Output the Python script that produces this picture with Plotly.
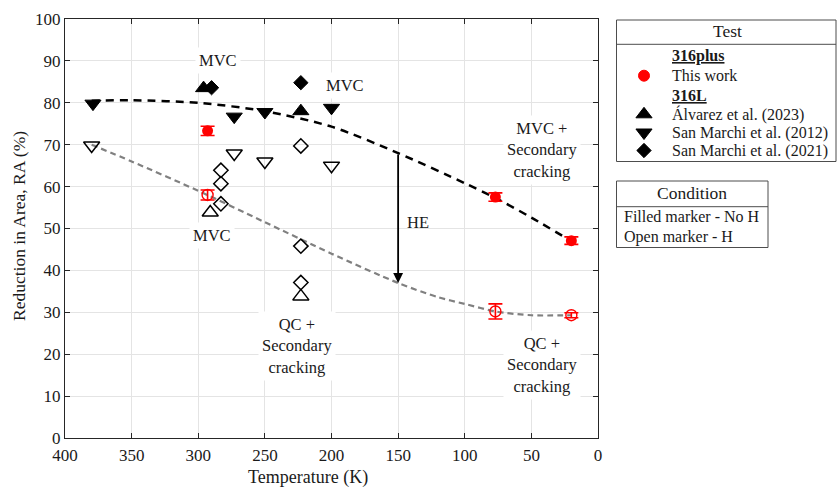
import plotly.graph_objects as go

W, H = 837, 487

# ---------------- data ----------------
# 316plus, this work (temperature in K, RA in %)
plus_T = [293, 77, 20]
plus_ra_noH = [73.3, 57.5, 47.1]
plus_err_noH = [1.1, 1.0, 0.9]
plus_ra_H = [58.0, 30.2, 29.3]
plus_err_H = [1.2, 1.8, 0.6]

# 316L, Alvarez et al. (2023)
alv_T_noH = [296, 223]
alv_ra_noH = [83.5, 78.0]
alv_T_H = [291, 223]
alv_ra_H = [53.8, 33.8]

# 316L, San Marchi et al. (2012)
sm12_T_noH = [379, 273, 250, 200]
sm12_ra_noH = [79.8, 76.7, 77.8, 78.8]
sm12_T_H = [380, 273, 250, 200]
sm12_ra_H = [69.8, 67.9, 66.0, 65.0]

# 316L, San Marchi et al. (2021)
sm21_T_noH = [290, 223]
sm21_ra_noH = [83.6, 84.8]
sm21_T_H = [283, 283, 283, 223, 223, 223]
sm21_ra_H = [63.9, 60.7, 55.9, 69.7, 45.8, 37.1]

# trend curves
trend_noH_T = [380, 350, 300, 250, 200, 150, 100, 77, 50, 20]
trend_noH_ra = [80.5, 80.6, 80.0, 78.0, 74.3, 68.0, 60.8, 57.3, 52.6, 47.0]
trend_H_T = [380, 350, 300, 250, 200, 150, 120, 100, 77, 50, 20]
trend_H_ra = [70.0, 66.0, 59.0, 51.5, 44.0, 37.0, 33.6, 32.0, 30.2, 29.3, 29.3]

# ---------------- layout geometry (pixels) ----------------
PL, PR, PT, PB = 65, 598, 19, 438
SERIF = "Liberation Serif"
RED = "#ff0000"
INK = "#1a1a1a"


def px(x):
    return x / W


def py(y):
    return 1 - y / H


fig = go.Figure()

# trend curves
fig.add_trace(go.Scatter(x=trend_noH_T, y=trend_noH_ra, mode="lines",
                         line=dict(color="black", width=2.5, dash="8px,6px", shape="spline",
                                   smoothing=0.8),
                         showlegend=False, hoverinfo="skip"))
fig.add_trace(go.Scatter(x=trend_H_T, y=trend_H_ra, mode="lines",
                         line=dict(color="#808080", width=2.2, dash="6px,4px", shape="spline",
                                   smoothing=0.8),
                         showlegend=False, hoverinfo="skip"))

open_line = dict(color="black", width=1.5)

# San Marchi 2012
fig.add_trace(go.Scatter(x=sm12_T_noH, y=sm12_ra_noH, mode="markers",
                         marker=dict(symbol="triangle-down", size=14, color="black",
                                     line=dict(color="black", width=1))))
fig.add_trace(go.Scatter(x=sm12_T_H, y=sm12_ra_H, mode="markers",
                         marker=dict(symbol="triangle-down-open", size=14, color="black",
                                     line=open_line)))
# Alvarez 2023
fig.add_trace(go.Scatter(x=alv_T_noH, y=alv_ra_noH, mode="markers",
                         marker=dict(symbol="triangle-up", size=14, color="black",
                                     line=dict(color="black", width=1))))
fig.add_trace(go.Scatter(x=alv_T_H, y=alv_ra_H, mode="markers",
                         marker=dict(symbol="triangle-up-open", size=14, color="black",
                                     line=open_line)))
# San Marchi 2021
fig.add_trace(go.Scatter(x=sm21_T_noH, y=sm21_ra_noH, mode="markers",
                         marker=dict(symbol="diamond", size=11, color="black",
                                     line=dict(color="black", width=1))))
fig.add_trace(go.Scatter(x=sm21_T_H, y=sm21_ra_H, mode="markers",
                         marker=dict(symbol="diamond-open", size=11, color="black",
                                     line=open_line)))
# this work
fig.add_trace(go.Scatter(x=plus_T, y=plus_ra_noH, mode="markers",
                         error_y=dict(type="data", array=plus_err_noH, color=RED,
                                      thickness=1.6, width=7),
                         marker=dict(symbol="circle", size=11, color=RED)))
fig.add_trace(go.Scatter(x=plus_T, y=plus_ra_H, mode="markers",
                         error_y=dict(type="data", array=plus_err_H, color=RED,
                                      thickness=1.6, width=7),
                         marker=dict(symbol="circle-open", size=11, color=RED,
                                     line=dict(color=RED, width=1.4))))

# legend glyphs on a pixel-space overlay axis
leg_x = 644
leg_sym = [("circle", RED, 75.7, 11), ("triangle-up", "black", 114.3, 14),
           ("triangle-down", "black", 132.5, 14), ("diamond", "black", 150.5, 11)]
for sym, col, yy, sz in leg_sym:
    fig.add_trace(go.Scatter(x=[leg_x], y=[yy], xaxis="x2", yaxis="y2", mode="markers",
                             marker=dict(symbol=sym, size=sz, color=col,
                                         line=dict(color=col, width=1)),
                             cliponaxis=False))

axis_common = dict(
    showgrid=True, gridcolor="#e4e4e4", gridwidth=1,
    ticks="inside", ticklen=5, tickwidth=1, tickcolor="#262626",
    showline=True, linecolor="#262626", linewidth=1, mirror="ticks",
    tickfont=dict(family=SERIF, size=17, color=INK),
    zeroline=False, automargin=False,
)

fig.update_layout(
    width=W, height=H,
    margin=dict(l=0, r=0, t=0, b=0),
    paper_bgcolor="white", plot_bgcolor="rgba(0,0,0,0)",
    showlegend=False,
    xaxis=dict(domain=[px(PL), px(PR)], range=[400, 0], dtick=50, tick0=0,
               ticklabelstandoff=2, **axis_common),
    yaxis=dict(domain=[py(PB), py(PT)], range=[0, 100], dtick=10, tick0=0, **axis_common),
    xaxis2=dict(domain=[0, 1], range=[0, W], anchor="y2", visible=False, fixedrange=True),
    yaxis2=dict(domain=[0, 1], range=[H, 0], anchor="x2", visible=False, fixedrange=True),
)

annots = []


def note(text, x, y, size=16.5):
    annots.append(dict(text=text, x=x, y=y, xref="x", yref="y", showarrow=False,
                       font=dict(family=SERIF, size=size, color=INK),
                       bgcolor="white", borderpad=3, align="center"))


note("MVC", 285, 90.0)
note("MVC", 190, 84.2)
note("MVC", 290, 48.4)
note("QC +<br>Secondary<br>cracking", 226, 22.0)
note("MVC +<br>Secondary<br>cracking", 42, 68.7)
note("QC +<br>Secondary<br>cracking", 42, 17.4)
annots.append(dict(text="HE", x=135, y=51.5, xref="x", yref="y", showarrow=False,
                   font=dict(family=SERIF, size=16.5, color=INK)))
# hydrogen embrittlement arrow
annots.append(dict(x=150, y=37.0, ax=150, ay=68.0, xref="x", yref="y", axref="x", ayref="y",
                   text="", showarrow=True, arrowhead=2, arrowsize=1.1, arrowwidth=1.8,
                   arrowcolor="black"))

# axis titles
annots.append(dict(text="Temperature (K)", x=px(308), y=py(477), xref="paper", yref="paper",
                   xanchor="center", yanchor="middle", showarrow=False,
                   font=dict(family=SERIF, size=18, color=INK)))
annots.append(dict(text="Reduction in Area, RA (%)", x=px(19), y=py(226), xref="paper",
                   yref="paper", xanchor="center", yanchor="middle", showarrow=False,
                   textangle=-90, font=dict(family=SERIF, size=17.5, color=INK)))


def ltext(text, x, y, size=16, anchor="left"):
    annots.append(dict(text=text, x=px(x), y=py(y), xref="paper", yref="paper",
                       showarrow=False, xanchor=anchor, yanchor="middle",
                       font=dict(family=SERIF, size=size, color=INK)))


# "Test" legend box
ltext("Test", 727, 31, size=17.5, anchor="center")
ltext("<b><u>316plus</u></b>", 670, 56)
ltext("This work", 670, 75.7)
ltext("<b><u>316L</u></b>", 670, 95)
ltext("Álvarez et al. (2023)", 670, 114.3)
ltext("San Marchi et al. (2012)", 670, 132.5)
ltext("San Marchi et al. (2021)", 670, 150.5)

# "Condition" legend box
ltext("Condition", 692, 193.3, size=17.5, anchor="center")
ltext("Filled marker - No H", 622, 216.7)
ltext("Open marker - H", 622, 236.7)

shapes = []
box_line = dict(color="#4d4d4d", width=1)
for x0, y0, x1, y1, sep in [(616.5, 20, 836, 161.5, 44.3), (616.5, 181, 768, 247.5, 206.7)]:
    shapes.append(dict(type="rect", xref="paper", yref="paper", x0=px(x0), x1=px(x1),
                       y0=py(y1), y1=py(y0), line=box_line, fillcolor="rgba(0,0,0,0)"))
    shapes.append(dict(type="line", xref="paper", yref="paper", x0=px(x0), x1=px(x1),
                       y0=py(sep), y1=py(sep), line=box_line))

fig.update_layout(annotations=annots, shapes=shapes)

fig.write_html("out.html")
